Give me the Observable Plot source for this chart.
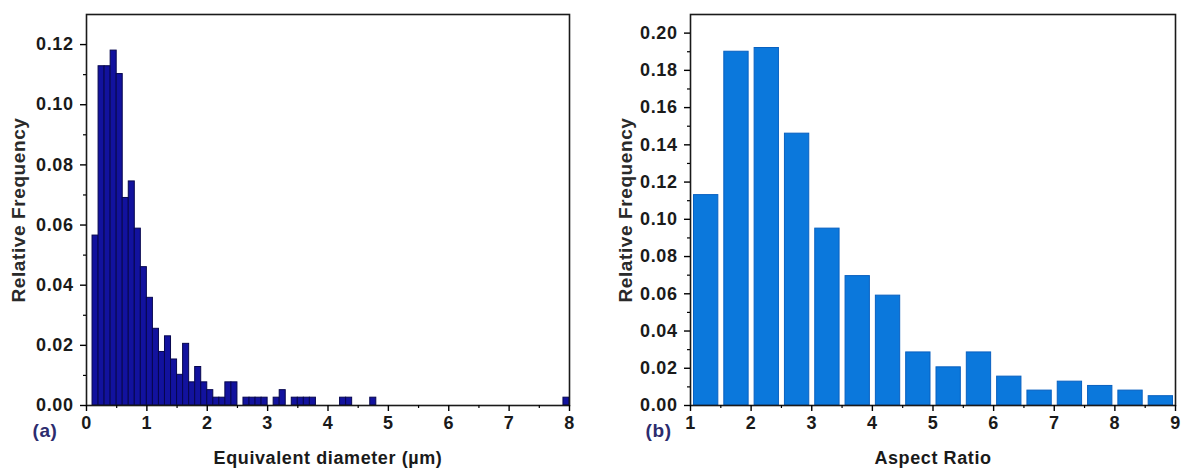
<!DOCTYPE html>
<html>
<head>
<meta charset="utf-8">
<script src="https://cdn.jsdelivr.net/npm/d3@7"></script>
<script src="https://cdn.jsdelivr.net/npm/@observablehq/plot@0.6"></script>
<style>
  html, body { margin: 0; padding: 0; background: white; }
  #wrap { display: flex; width: 1181px; height: 472px; }
</style>
</head>
<body>
<div id="wrap"></div>
<script>
// ---- Panel (a): equivalent diameter histogram (bin width 0.1 µm) ----
const diameterBinWidth = 0.1;
const diameterStart = [0.1,0.2,0.3,0.4,0.5,0.6,0.7,0.8,0.9,1.0,1.1,1.2,1.3,1.4,1.5,1.6,1.7,1.8,1.9,2.0,2.1,2.2,2.3,2.4,
                       2.6,2.7,2.8,2.9,3.1,3.2,3.4,3.5,3.6,3.7,4.2,4.3,4.7,7.9];
const diameterFreq  = [0.0565,0.1128,0.1128,0.1180,0.1102,0.0690,0.0745,0.0588,0.0460,0.0358,0.0255,0.0178,0.0230,0.0153,0.0102,0.0205,0.0077,0.0128,0.0077,0.0051,0.0026,0.0026,0.0077,0.0077,
                       0.0026,0.0026,0.0026,0.0026,0.0026,0.0051,0.0026,0.0026,0.0026,0.0026,0.0026,0.0026,0.0026,0.0026];
const diameterXTicks = [0,1,2,3,4,5,6,7,8];
const diameterXMinor = [0.5,1.5,2.5,3.5,4.5,5.5,6.5,7.5];
const diameterYTicks = [0,0.02,0.04,0.06,0.08,0.10,0.12];
const diameterYMinor = [0.01,0.03,0.05,0.07,0.09,0.11];

// ---- Panel (b): aspect ratio histogram (bin width 0.5) ----
const aspectBinWidth = 0.5;
const aspectStart = [1,1.5,2,2.5,3,3.5,4,4.5,5,5.5,6,6.5,7,7.5,8,8.5];
const aspectFreq  = [0.113,0.190,0.192,0.146,0.095,0.0695,0.059,0.0285,0.0205,0.0285,0.0155,0.008,0.0128,0.0105,0.008,0.005];
const aspectXTicks = [1,2,3,4,5,6,7,8,9];
const aspectXMinor = [1.5,2.5,3.5,4.5,5.5,6.5,7.5,8.5];
const aspectYTicks = [0,0.02,0.04,0.06,0.08,0.10,0.12,0.14,0.16,0.18,0.20];
const aspectYMinor = [0.01,0.03,0.05,0.07,0.09,0.11,0.13,0.15,0.17,0.19];

const FONT = "font: bold 18px 'Liberation Sans', Arial, sans-serif; letter-spacing: 0.6px; background: white; overflow: visible;";

function panel({start, freq, binWidth, xDomain, yDomain, xTicks, xMinor, yTicks, yMinor,
                width, marginLeft, marginRight, fill, stroke, insetLeft, insetRight,
                xTitle, yTitle, tag, yTitleOffset, tagDx}) {
  const data = start.map((s, i) => ({x1: s, x2: s + binWidth, y: freq[i]}));
  const fmt = d3.format(".2f");
  return Plot.plot({
    width, height: 472,
    marginLeft, marginRight, marginTop: 14, marginBottom: 67,
    style: FONT,
    x: {domain: xDomain, label: null},
    y: {domain: yDomain, label: null},
    marks: [
      Plot.rectY(data, {x1: "x1", x2: "x2", y: "y", fill, stroke, strokeWidth: 1,
                        insetLeft, insetRight}),
      Plot.frame({stroke: "#1a1a1a", strokeWidth: 1.6}),
      Plot.axisY({ticks: yTicks, tickSize: 6, tickPadding: 7, tickFormat: fmt, label: null,
                  strokeWidth: 1.4, fill: "#1a1a1a"}),
      Plot.axisY({ticks: yMinor, tickSize: 3, tickFormat: () => "", label: null, strokeWidth: 1.2}),
      Plot.axisX({ticks: xTicks, tickSize: 6, tickPadding: 5, tickFormat: d3.format("d"), label: null,
                  strokeWidth: 1.4, fill: "#1a1a1a"}),
      Plot.axisX({ticks: xMinor, tickSize: 3, tickFormat: () => "", label: null, strokeWidth: 1.2}),
      Plot.text([xTitle], {frameAnchor: "bottom", dy: 58, textAnchor: "middle", fill: "#1a1a1a", fontSize: 18}),
      Plot.text([yTitle], {frameAnchor: "left", dx: -yTitleOffset, rotate: -90, textAnchor: "middle",
                           fill: "#2a2a2a", fontSize: 19, letterSpacing: "1px"}),
      Plot.text([tag], {frameAnchor: "bottom-left", dx: tagDx, dy: 31, textAnchor: "start", fill: "#2c2c6e", fontSize: 19})
    ]
  });
}

const left = panel({
  start: diameterStart, freq: diameterFreq, binWidth: diameterBinWidth,
  xDomain: [0, 8], yDomain: [0, 0.13],
  xTicks: diameterXTicks, xMinor: diameterXMinor, yTicks: diameterYTicks, yMinor: diameterYMinor,
  width: 590, marginLeft: 86, marginRight: 21,
  fill: "#12129e", stroke: "#07074e", insetLeft: 0, insetRight: 0,
  xTitle: "Equivalent diameter (µm)", yTitle: "Relative Frequency", tag: "(a)",
  yTitleOffset: 68, tagDx: -54
});

const right = panel({
  start: aspectStart, freq: aspectFreq, binWidth: aspectBinWidth,
  xDomain: [1, 9], yDomain: [0, 0.21],
  xTicks: aspectXTicks, xMinor: aspectXMinor, yTicks: aspectYTicks, yMinor: aspectYMinor,
  width: 591, marginLeft: 100, marginRight: 6,
  fill: "#0b78dc", stroke: "#0860c0", insetLeft: 3.5, insetRight: 2.5,
  xTitle: "Aspect Ratio", yTitle: "Relative Frequency", tag: "(b)",
  yTitleOffset: 65, tagDx: -45
});

document.getElementById("wrap").append(left, right);
</script>
</body>
</html>
